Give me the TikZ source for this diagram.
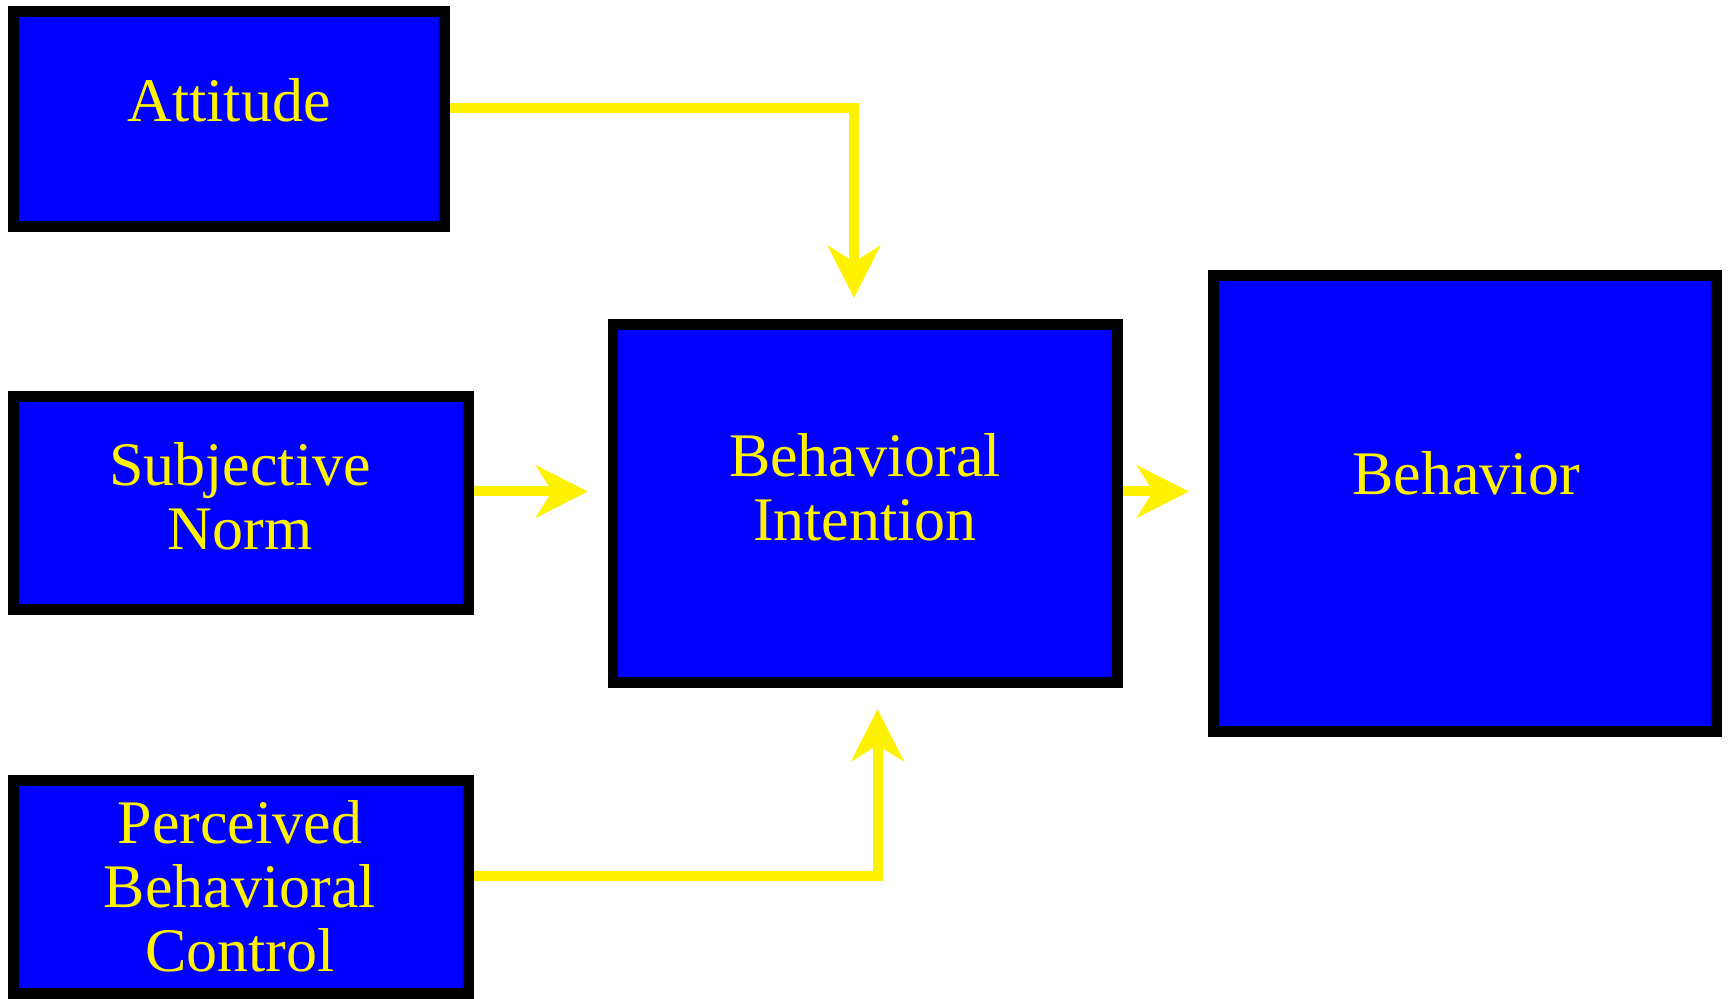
\documentclass[tikz,border=0pt]{standalone}
\usepackage{fontspec}
\setmainfont{Liberation Serif}
\usepackage{tikz}
\usetikzlibrary{arrows.meta}

\begin{document}
\begin{tikzpicture}[
		x=0.5pt, y=-0.5pt,
		box/.style={
			draw=black,
			fill=blue,
			line width=5.35pt,
			inner sep=0pt
			},
		lbl/.style={
			text=yellow,
			align=center,
			font={\fontsize{31}{32}\selectfont}
			},
		link/.style={
			draw=yellow,
			line width=5pt,
			-{Stealth[length=26pt, width=26pt, inset=8pt]}
			}
		]
		\path[fill=white] (0,0) rectangle (1728,997);

		% boxes
		\node[box, minimum width=215.65pt, minimum height=107.65pt] (att) at (229,119) {};
		\node[box, minimum width=227.65pt, minimum height=106.65pt] (sub) at (241,503) {};
		\node[box, minimum width=227.65pt, minimum height=106.65pt] (pbc) at (241,887) {};
		\node[box, minimum width=252.15pt, minimum height=179.15pt] (bi) at (865,503.5) {};
		\node[box, minimum width=251.65pt, minimum height=228.15pt] (beh) at (1465,503.5) {};

		\node[lbl] (attL) at (229,100) {Attitude};
		\node[lbl] (subL) at (240,496) {Subjective\\Norm};
		\node[lbl] (pbcL) at (240,886) {Perceived\\Behavioral\\Control};
		\node[lbl] (biL) at (865,487.5) {Behavioral\\Intention};
		\node[lbl] (behL) at (1466,473) {Behavior};

		% arrows
		\coordinate (attIn) at (854,298);
		\coordinate (subIn) at (588,491.5);
		\coordinate (pbcIn) at (877.5,709);
		\coordinate (behIn) at (1189,491.5);

		\draw[link] (att.east |- 0,108) -| (attIn);
		\draw[link] (sub.east |- 0,491.5) -- (subIn);
		\draw[link] (pbc.east |- 0,876) -| (pbcIn);
		\draw[link] (bi.east |- 0,491.5) -- (behIn);
	\end{tikzpicture}
\end{document}
